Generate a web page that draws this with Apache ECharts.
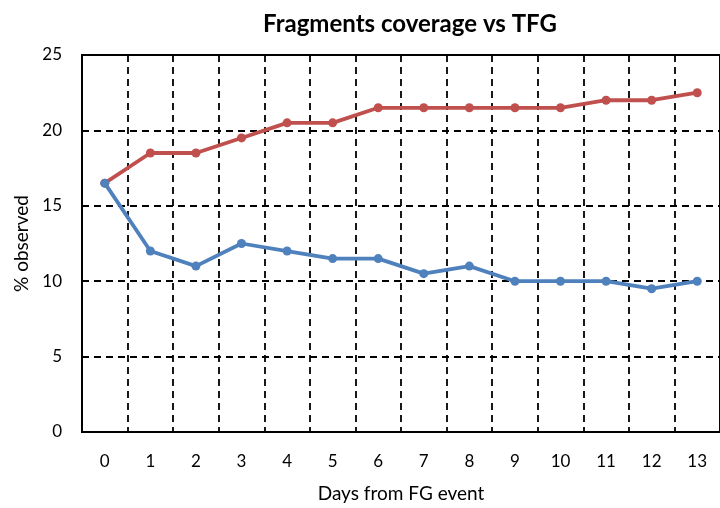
<!DOCTYPE html>
<html>
<head>
<meta charset="utf-8">
<script src="https://cdn.jsdelivr.net/npm/echarts@6/dist/echarts.min.js"></script>
<style>
html,body{margin:0;padding:0;background:#fff;}
#chart{width:720px;height:508px;}
</style>
</head>
<body>
<div id="chart"></div>
<script>
const days = ['0','1','2','3','4','5','6','7','8','9','10','11','12','13'];
const redSeries = [16.5, 18.5, 18.5, 19.5, 20.5, 20.5, 21.5, 21.5, 21.5, 21.5, 21.5, 22, 22, 22.5];
const blueSeries = [16.5, 12, 11, 12.5, 12, 11.5, 11.5, 10.5, 11, 10, 10, 10, 9.5, 10];
const yTicks = [0, 5, 10, 15, 20, 25];

const FONT = 'Lato';
const chart = echarts.init(document.getElementById('chart'), null, {renderer: 'canvas'});
const dashed = {type: [7, 5], color: '#000', width: 1.8};
chart.setOption({
  animation: false,
  backgroundColor: '#fff',
  title: {
    text: 'Fragments coverage vs TFG',
    left: 405, top: 7, textAlign: 'center',
    textStyle: {fontFamily: FONT, fontWeight: 'bold', fontSize: 24, color: '#000'}
  },
  grid: {left: 82, top: 55, width: 647, height: 379, show: true, borderColor: '#000', borderWidth: 2, backgroundColor: 'transparent'},
  xAxis: {
    type: 'category', data: days, boundaryGap: true,
    name: 'Days from FG event', nameLocation: 'middle', nameGap: 52,
    nameTextStyle: {fontFamily: FONT, fontSize: 19, color: '#000'},
    axisLine: {lineStyle: {color: '#000', width: 2}},
    axisTick: {show: false},
    axisLabel: {fontFamily: FONT, fontSize: 17, color: '#000', margin: 21},
    splitLine: {show: true, interval: 0, lineStyle: dashed}
  },
  yAxis: {
    type: 'value', min: yTicks[0], max: yTicks[yTicks.length - 1], interval: 5,
    name: '% observed', nameLocation: 'middle', nameGap: 51,
    nameTextStyle: {fontFamily: FONT, fontSize: 19, color: '#000'},
    axisLine: {show: true, lineStyle: {color: '#000', width: 2}},
    axisTick: {show: false},
    axisLabel: {fontFamily: FONT, fontSize: 17, color: '#000', margin: 20},
    splitLine: {show: true, lineStyle: dashed}
  },
  series: [
    {type: 'line', data: redSeries, symbol: 'circle', symbolSize: 9,
     lineStyle: {color: '#C0504D', width: 3.8}, itemStyle: {color: '#C0504D'}},
    {type: 'line', data: blueSeries, symbol: 'circle', symbolSize: 9,
     lineStyle: {color: '#4F81BD', width: 3.8}, itemStyle: {color: '#4F81BD'}}
  ]
});
</script>
</body>
</html>
